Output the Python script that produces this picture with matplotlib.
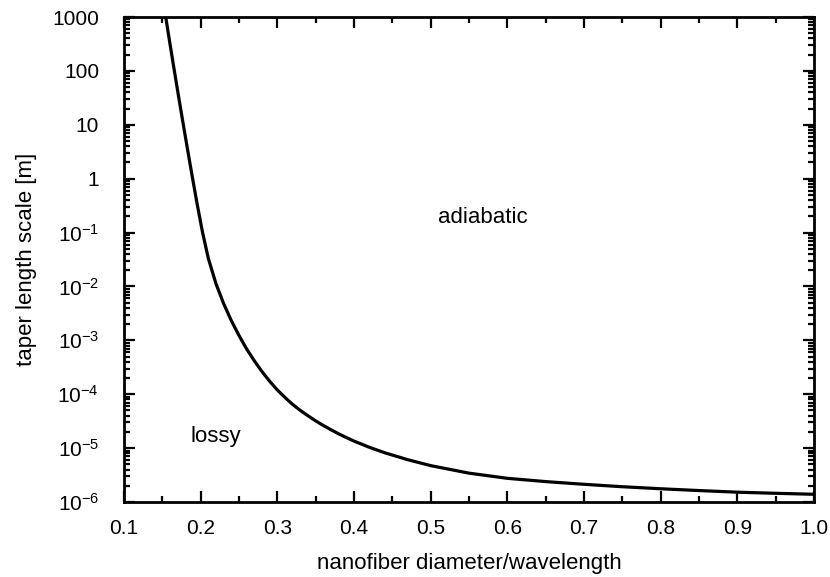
import numpy as np
import matplotlib
matplotlib.use('Agg')
import matplotlib.pyplot as plt
from matplotlib.ticker import FixedLocator, FuncFormatter, LogLocator, MultipleLocator

# values
diameter = [0.1544, 0.1600, 0.1657, 0.1715, 0.1774, 0.1834, 0.1895, 0.1958, 0.2025,
            0.21, 0.22, 0.23, 0.24, 0.25, 0.26, 0.27, 0.28, 0.29, 0.30,
            0.31, 0.32, 0.33, 0.34, 0.35, 0.36, 0.37, 0.38, 0.39, 0.40,
            0.42, 0.44, 0.47, 0.50, 0.55, 0.60, 0.65, 0.70, 0.75, 0.80,
            0.85, 0.90, 0.95, 1.00]
length = [1000, 316, 100, 31.6, 10, 3.16, 1, 0.316, 0.1,
          0.0331, 0.0112, 4.79e-3, 2.32e-3, 1.23e-3, 6.9e-4, 4.17e-4, 2.63e-4, 1.74e-4, 1.2e-4,
          8.7e-5, 6.46e-5, 5.0e-5, 3.98e-5, 3.2e-5, 2.63e-5, 2.19e-5, 1.84e-5, 1.57e-5, 1.35e-5,
          1.035e-5, 8.2e-6, 6.1e-6, 4.73e-6, 3.43e-6, 2.75e-6, 2.39e-6, 2.13e-6, 1.92e-6, 1.76e-6,
          1.63e-6, 1.52e-6, 1.45e-6, 1.39e-6]

x_ticks = [0.1, 0.2, 0.3, 0.4, 0.5, 0.6, 0.7, 0.8, 0.9, 1.0]
y_ticks = [1e-6, 1e-5, 1e-4, 1e-3, 1e-2, 1e-1, 1, 10, 100, 1000]

plt.rcParams['font.family'] = ['Liberation Sans', 'DejaVu Sans']
plt.rcParams['mathtext.fontset'] = 'custom'
plt.rcParams['mathtext.rm'] = 'Liberation Sans'
plt.rcParams['mathtext.it'] = 'Liberation Sans'
plt.rcParams['mathtext.default'] = 'regular'
plt.rcParams['axes.unicode_minus'] = False


def y_fmt(v, pos):
	e = int(round(np.log10(v)))
	if e >= 0:
		return str(int(round(v)))
	return r'$10^{-%d}$' % (-e)


fig = plt.figure(figsize=(8.3, 5.77), dpi=100)
ax = fig.add_axes([0.1494, 0.13, 0.8313, 0.8405])

ax.plot(diameter, length, c='black', lw=2.3, solid_joinstyle='round')
ax.set_yscale('log')
ax.set_xlim(0.1, 1.0)
ax.set_ylim(1e-6, 1000)

ax.xaxis.set_major_locator(FixedLocator(x_ticks))
ax.xaxis.set_minor_locator(MultipleLocator(0.05))
ax.set_xticklabels(['%.1f' % t for t in x_ticks])
ax.yaxis.set_major_locator(FixedLocator(y_ticks))
ax.yaxis.set_minor_locator(LogLocator(base=10, subs=np.arange(2, 10), numticks=20))
ax.yaxis.set_major_formatter(FuncFormatter(y_fmt))

ax.tick_params(which='both', direction='in', top=True, right=True, width=1.6, labelsize=15)
ax.tick_params(which='major', length=8)
ax.tick_params(which='minor', length=4)
ax.tick_params(axis='x', which='major', pad=12)
ax.tick_params(axis='y', which='major', pad=18)
for s in ax.spines.values():
	s.set_linewidth(2)

ax.set_xlabel('nanofiber diameter/wavelength', fontsize=16, labelpad=11)
ax.set_ylabel('taper length scale [m]', fontsize=16, labelpad=11)

ax.text(0.568, 0.19, 'adiabatic', fontsize=16, ha='center', va='center')
ax.text(0.22, 1.66e-5, 'lossy', fontsize=16, ha='center', va='center')

plt.savefig('out.png', dpi=100)
